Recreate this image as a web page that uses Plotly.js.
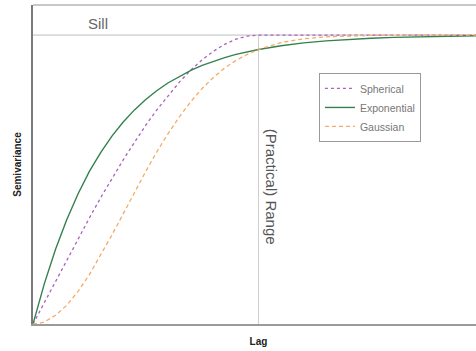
<!DOCTYPE html>
<html>
<head>
<meta charset="utf-8">
<script src="https://cdn.plot.ly/plotly-3.0.1.min.js"></script>
<style>
html,body{margin:0;padding:0;overflow:hidden;background:#fff;}
#chart{width:484px;height:351px;}
</style>
</head>
<body>
<div id="chart"></div>
<script>
// Lag values (in units of the practical range)
var lag = [0,0.025,0.05,0.1,0.15,0.2,0.25,0.3,0.35,0.4,0.45,0.5,0.55,0.6,0.65,0.7,0.75,0.8,0.85,0.9,0.95,1.0,1.1,1.2,1.3,1.4,1.5,1.6,1.7,1.8,1.9,2.0];
// Semivariance values (sill = 1)
var spherical = [0,0.037,0.075,0.150,0.223,0.296,0.367,0.437,0.504,0.568,0.629,0.688,0.742,0.792,0.838,0.879,0.914,0.944,0.968,0.986,0.996,1.000,1.000,1.000,1.000,1.000,1.000,1.000,1.000,1.000,1.000,1.000];
var exponential = [0,0.072,0.139,0.259,0.362,0.451,0.528,0.593,0.650,0.699,0.741,0.777,0.808,0.835,0.858,0.878,0.895,0.909,0.922,0.933,0.942,0.950,0.963,0.973,0.980,0.985,0.989,0.992,0.994,0.995,0.997,0.998];
var gaussian = [0,0.002,0.007,0.030,0.065,0.113,0.171,0.237,0.308,0.381,0.455,0.528,0.597,0.660,0.718,0.770,0.815,0.853,0.886,0.912,0.933,0.950,0.974,0.987,0.994,0.997,0.999,1.000,1.000,1.000,1.000,1.000];
var sill = 1;
var practicalRange = 1;
var seriesNames = ["Spherical","Exponential","Gaussian"];

var font = "Liberation Sans, Arial, sans-serif";

var traces = [
  {x: lag, y: spherical, name: seriesNames[0], type: "scatter", mode: "lines",
   line: {color: "#a862c2", width: 1.3, dash: "dot"}},
  {x: lag, y: exponential, name: seriesNames[1], type: "scatter", mode: "lines",
   line: {color: "#34804e", width: 1.4}},
  {x: lag, y: gaussian, name: seriesNames[2], type: "scatter", mode: "lines",
   line: {color: "#f6aa66", width: 1.3, dash: "4px,3px"}}
];

var layout = {
  width: 484, height: 351,
  margin: {l: 33, r: 0, t: 5, b: 27},
  paper_bgcolor: "#ffffff", plot_bgcolor: "#ffffff",
  showlegend: true,
  font: {family: font, color: "#555"},
  xaxis: {range: [0, 2], showgrid: false, zeroline: false, showticklabels: false, ticks: "",
          showline: true, linecolor: "#9a9a9a", linewidth: 2,
          title: {text: "Lag", font: {family: font, size: 10, color: "#222", weight: "bold"}, standoff: 13}},
  yaxis: {range: [0, 1.104], showgrid: false, zeroline: false, showticklabels: false, ticks: "",
          showline: true, linecolor: "#7a7a7a", linewidth: 2,
          title: {text: "Semivariance", font: {family: font, size: 10, color: "#222", weight: "bold"}, standoff: 8}},
  legend: {x: 0.634, y: 0.787, xanchor: "left", yanchor: "top",
           bgcolor: "#ffffff", bordercolor: "#999", borderwidth: 1,
           font: {family: font, size: 10.5, color: "#777"}, tracegroupgap: 0},
  shapes: [
    {type: "line", xref: "x", yref: "y", x0: 0, x1: 2, y0: sill, y1: sill,
     line: {color: "#bdbdbd", width: 1}, layer: "below"},
    {type: "line", xref: "x", yref: "y", x0: practicalRange, x1: practicalRange, y0: 0, y1: sill,
     line: {color: "#cfcfcf", width: 1}, layer: "below"},
    {type: "line", xref: "paper", yref: "paper", x0: 0, x1: 1, y0: 1, y1: 1,
     line: {color: "#c8c8c8", width: 2}}
  ],
  annotations: [
    {text: "Sill", xref: "x", yref: "y", x: 0.29, y: sill, yanchor: "bottom", yshift: 1,
     showarrow: false, font: {family: font, size: 15, color: "#666"}},
    {text: "(Practical) Range", xref: "x", yref: "y", x: practicalRange, y: 0.475, xanchor: "left", xshift: 2,
     textangle: 90, showarrow: false, font: {family: font, size: 15, color: "#555"}}
  ]
};

Plotly.newPlot("chart", traces, layout, {displayModeBar: false, staticPlot: true});
</script>
</body>
</html>
